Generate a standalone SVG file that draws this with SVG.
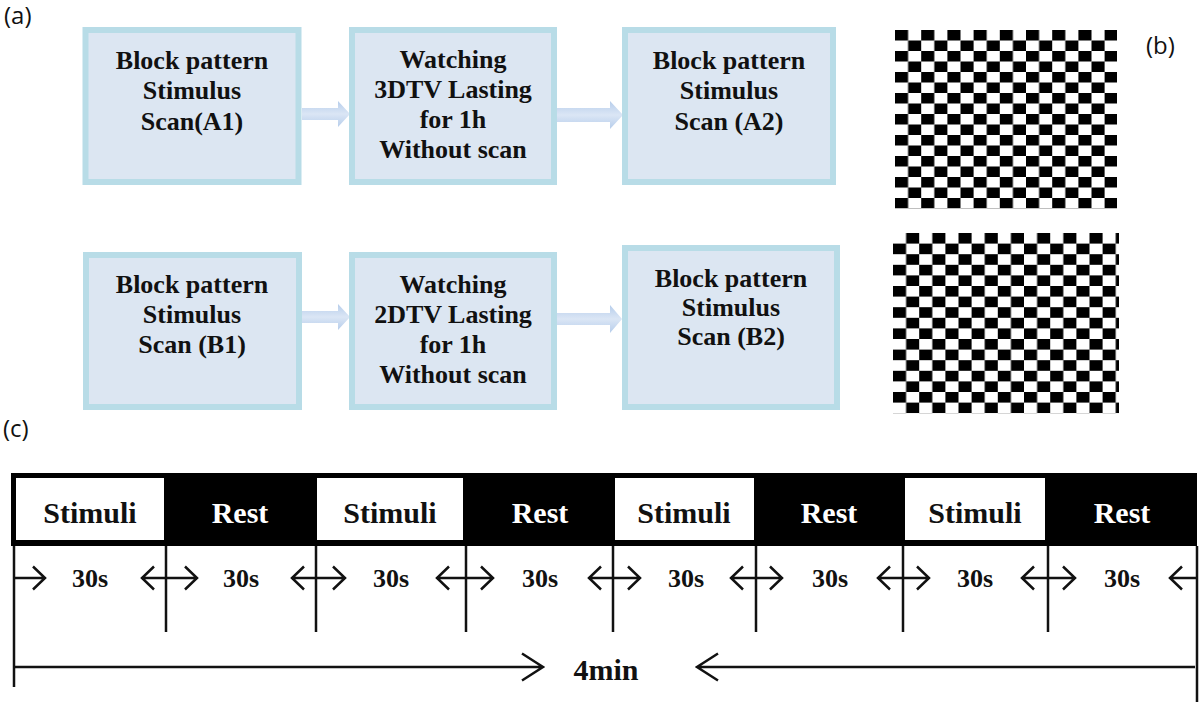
<svg xmlns="http://www.w3.org/2000/svg" width="1200" height="702" viewBox="0 0 1200 702">
<style>
.box{fill:#dce6f2;stroke:#b8dce7;stroke-width:6}
.bt{font-family:"Liberation Serif","Times New Roman",serif;font-weight:bold;font-size:26px;fill:#111;text-anchor:middle}
.tl{font-family:"Liberation Serif","Times New Roman",serif;font-weight:bold;font-size:30px;text-anchor:middle}
.sec{font-family:"Liberation Serif","Times New Roman",serif;font-weight:bold;font-size:26px;fill:#111;text-anchor:middle}
.lab{font-family:"Open Sans","Noto Sans",sans-serif;font-size:24px;fill:#111}
.ln{stroke:#111;stroke-width:2.5;fill:none}
.ar{fill:url(#ag)}
</style>
<defs>
<linearGradient id="ag" x1="0" y1="0" x2="0" y2="1">
<stop offset="0" stop-color="#b6cdeb"/>
<stop offset="0.5" stop-color="#dbe6f5"/>
<stop offset="1" stop-color="#b6cdeb"/>
</linearGradient>
<pattern id="chkA" patternUnits="userSpaceOnUse" x="895" y="30" width="26.2" height="21">
<rect x="0" y="0" width="13.1" height="10.5" fill="#000"/>
<rect x="13.1" y="10.5" width="13.1" height="10.5" fill="#000"/>
</pattern>
<pattern id="chkB" patternUnits="userSpaceOnUse" x="893" y="233" width="26.2" height="21.2">
<rect x="13.1" y="0" width="13.1" height="10.6" fill="#000"/>
<rect x="0" y="10.6" width="13.1" height="10.6" fill="#000"/>
</pattern>
</defs>
<rect width="1200" height="702" fill="#fff"/>

<text class="lab" x="4" y="24">(a)</text>
<text class="lab" x="1146" y="54">(b)</text>
<text class="lab" x="3" y="437">(c)</text>

<g id="connectors">
<polygon class="ar" points="302,108 338,108 338,101 350,114 338,127 338,120 302,120"/>
<polygon class="ar" points="557,108 610,108 610,101 623,115 610,129 610,122 557,122"/>
<polygon class="ar" points="302,311 338,311 338,304 350,317 338,330 338,323 302,323"/>
<polygon class="ar" points="557,313 610,313 610,305 622,319 610,333 610,325 557,325"/>
</g>

<g id="nodeA1">
<rect class="box" x="85.5" y="30" width="213" height="152"/>
<text class="bt" x="192" y="69">Block pattern</text>
<text class="bt" x="192" y="99">Stimulus</text>
<text class="bt" x="192" y="130">Scan(A1)</text>
</g>
<g id="nodeA3D">
<rect class="box" x="352" y="30" width="202" height="152"/>
<text class="bt" x="453" y="68">Watching</text>
<text class="bt" x="453" y="98">3DTV Lasting</text>
<text class="bt" x="453" y="128">for 1h</text>
<text class="bt" x="453" y="158">Without scan</text>
</g>
<g id="nodeA2">
<rect class="box" x="625" y="30" width="208" height="152"/>
<text class="bt" x="729" y="69">Block pattern</text>
<text class="bt" x="729" y="99">Stimulus</text>
<text class="bt" x="729" y="130">Scan (A2)</text>
</g>
<g id="nodeB1">
<rect class="box" x="86" y="255" width="213" height="152"/>
<text class="bt" x="192" y="293">Block pattern</text>
<text class="bt" x="192" y="323">Stimulus</text>
<text class="bt" x="192" y="353">Scan (B1)</text>
</g>
<g id="nodeB2D">
<rect class="box" x="352" y="255" width="202" height="152"/>
<text class="bt" x="453" y="293">Watching</text>
<text class="bt" x="453" y="323">2DTV Lasting</text>
<text class="bt" x="453" y="353">for 1h</text>
<text class="bt" x="453" y="383">Without scan</text>
</g>
<g id="nodeB2">
<rect class="box" x="625" y="248" width="212" height="159"/>
<text class="bt" x="731" y="287">Block pattern</text>
<text class="bt" x="731" y="316">Stimulus</text>
<text class="bt" x="731" y="345">Scan (B2)</text>
</g>

<g id="checkerA">
<rect x="895" y="30" width="222" height="178.5" fill="url(#chkA)"/>
</g>
<g id="checkerB">
<rect x="893" y="233" width="226" height="180.2" fill="url(#chkB)"/>
</g>

<g id="timeline">
<rect x="11" y="473" width="1186" height="73" fill="#000"/>
<rect x="16" y="478" width="148" height="62" fill="#fff"/>
<rect x="317" y="478" width="146" height="62" fill="#fff"/>
<rect x="615" y="478" width="139" height="62" fill="#fff"/>
<rect x="905" y="478" width="140" height="62" fill="#fff"/>
<text class="tl" x="90" y="523" fill="#111">Stimuli</text>
<text class="tl" x="240" y="523" fill="#fff">Rest</text>
<text class="tl" x="390" y="523" fill="#111">Stimuli</text>
<text class="tl" x="540" y="523" fill="#fff">Rest</text>
<text class="tl" x="684" y="523" fill="#111">Stimuli</text>
<text class="tl" x="829" y="523" fill="#fff">Rest</text>
<text class="tl" x="975" y="523" fill="#111">Stimuli</text>
<text class="tl" x="1122" y="523" fill="#fff">Rest</text>
</g>

<g id="durations">
<path class="ln" d="M14,546V687 M166,546V632 M316,546V632 M466,546V632 M613,546V632 M756,546V632 M903,546V632 M1048,546V632 M1197,546V702"/>
<path class="ln" d="M14,578H45 M33,566.5L45,578L33,589.5 M166,578H142 M154,566.5L142,578L154,589.5"/>
<path class="ln" d="M166,578H197 M185,566.5L197,578L185,589.5 M316,578H292 M304,566.5L292,578L304,589.5"/>
<path class="ln" d="M316,578H345 M333,566.5L345,578L333,589.5 M466,578H437 M449,566.5L437,578L449,589.5"/>
<path class="ln" d="M466,578H493 M481,566.5L493,578L481,589.5 M613,578H589 M601,566.5L589,578L601,589.5"/>
<path class="ln" d="M613,578H640 M628,566.5L640,578L628,589.5 M756,578H731 M743,566.5L731,578L743,589.5"/>
<path class="ln" d="M756,578H782 M770,566.5L782,578L770,589.5 M903,578H878 M890,566.5L878,578L890,589.5"/>
<path class="ln" d="M903,578H929 M917,566.5L929,578L917,589.5 M1048,578H1022 M1034,566.5L1022,578L1034,589.5"/>
<path class="ln" d="M1048,578H1075 M1063,566.5L1075,578L1063,589.5 M1197,578H1170 M1182,566.5L1170,578L1182,589.5"/>
<text class="sec" x="90" y="587">30s</text>
<text class="sec" x="241" y="587">30s</text>
<text class="sec" x="391" y="587">30s</text>
<text class="sec" x="540" y="587">30s</text>
<text class="sec" x="686" y="587">30s</text>
<text class="sec" x="830" y="587">30s</text>
<text class="sec" x="975" y="587">30s</text>
<text class="sec" x="1122" y="587">30s</text>
</g>

<g id="total">
<path class="ln" d="M14,667H543 M522,653.5L543,667L522,680.5 M1195,667H697 M718,653.5L697,667L718,680.5"/>
<text class="tl" x="606" y="680" fill="#111">4min</text>
</g>
</svg>
